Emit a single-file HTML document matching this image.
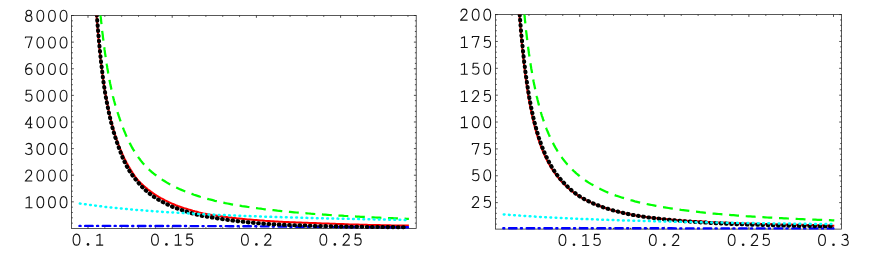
<!DOCTYPE html>
<html><head><meta charset="utf-8"><title>plots</title><style>
html,body{margin:0;padding:0;background:#fff;}
svg{display:block}
.t path{fill:none;stroke:#111;stroke-width:1.1;stroke-linejoin:round;stroke-linecap:butt}
</style></head><body>
<svg width="872" height="257" viewBox="0 0 872 257">
<rect width="872" height="257" fill="#fff"/>
<clipPath id="cl"><rect x="71.5" y="15.5" width="344.7" height="216.0"/></clipPath>
<rect x="71.5" y="15.5" width="344.7" height="213.0" fill="none" stroke="#222" stroke-width="0.75"/>
<path d="M88.00,228.5v-2.3M88.00,15.5v2.3M104.84,228.5v-1.3M104.84,15.5v1.3M121.68,228.5v-1.3M121.68,15.5v1.3M138.52,228.5v-1.3M138.52,15.5v1.3M155.36,228.5v-1.3M155.36,15.5v1.3M172.20,228.5v-2.3M172.20,15.5v2.3M189.04,228.5v-1.3M189.04,15.5v1.3M205.88,228.5v-1.3M205.88,15.5v1.3M222.72,228.5v-1.3M222.72,15.5v1.3M239.56,228.5v-1.3M239.56,15.5v1.3M256.40,228.5v-2.3M256.40,15.5v2.3M273.24,228.5v-1.3M273.24,15.5v1.3M290.08,228.5v-1.3M290.08,15.5v1.3M306.92,228.5v-1.3M306.92,15.5v1.3M323.76,228.5v-1.3M323.76,15.5v1.3M340.60,228.5v-2.3M340.60,15.5v2.3M357.44,228.5v-1.3M357.44,15.5v1.3M374.28,228.5v-1.3M374.28,15.5v1.3M391.12,228.5v-1.3M391.12,15.5v1.3M407.96,228.5v-1.3M407.96,15.5v1.3M71.5,15.50h2.3M416.2,15.50h-2.3M71.5,20.82h1.3M416.2,20.82h-1.3M71.5,26.15h1.3M416.2,26.15h-1.3M71.5,31.47h1.3M416.2,31.47h-1.3M71.5,36.80h1.3M416.2,36.80h-1.3M71.5,42.12h2.3M416.2,42.12h-2.3M71.5,47.44h1.3M416.2,47.44h-1.3M71.5,52.77h1.3M416.2,52.77h-1.3M71.5,58.09h1.3M416.2,58.09h-1.3M71.5,63.42h1.3M416.2,63.42h-1.3M71.5,68.74h2.3M416.2,68.74h-2.3M71.5,74.06h1.3M416.2,74.06h-1.3M71.5,79.39h1.3M416.2,79.39h-1.3M71.5,84.71h1.3M416.2,84.71h-1.3M71.5,90.04h1.3M416.2,90.04h-1.3M71.5,95.36h2.3M416.2,95.36h-2.3M71.5,100.68h1.3M416.2,100.68h-1.3M71.5,106.01h1.3M416.2,106.01h-1.3M71.5,111.33h1.3M416.2,111.33h-1.3M71.5,116.66h1.3M416.2,116.66h-1.3M71.5,121.98h2.3M416.2,121.98h-2.3M71.5,127.30h1.3M416.2,127.30h-1.3M71.5,132.63h1.3M416.2,132.63h-1.3M71.5,137.95h1.3M416.2,137.95h-1.3M71.5,143.28h1.3M416.2,143.28h-1.3M71.5,148.60h2.3M416.2,148.60h-2.3M71.5,153.92h1.3M416.2,153.92h-1.3M71.5,159.25h1.3M416.2,159.25h-1.3M71.5,164.57h1.3M416.2,164.57h-1.3M71.5,169.90h1.3M416.2,169.90h-1.3M71.5,175.22h2.3M416.2,175.22h-2.3M71.5,180.54h1.3M416.2,180.54h-1.3M71.5,185.87h1.3M416.2,185.87h-1.3M71.5,191.19h1.3M416.2,191.19h-1.3M71.5,196.52h1.3M416.2,196.52h-1.3M71.5,201.84h2.3M416.2,201.84h-2.3M71.5,207.16h1.3M416.2,207.16h-1.3M71.5,212.49h1.3M416.2,212.49h-1.3M71.5,217.81h1.3M416.2,217.81h-1.3M71.5,223.14h1.3M416.2,223.14h-1.3" stroke="#222" stroke-width="0.8" fill="none"/>
<g clip-path="url(#cl)" fill="none">
<path d="M95.8,5.2 L96.1,8.8 L96.3,12.3 L96.6,15.7 L96.8,19.0 L97.1,22.3 L97.3,25.4 L97.6,28.4 L97.8,31.4 L98.1,34.3 L98.3,37.1 L98.6,39.8 L98.9,42.5 L99.1,45.1 L99.4,47.6 L99.6,50.1 L99.9,52.5 L100.1,54.9 L100.4,57.1 L100.6,59.4 L100.9,61.6 L101.1,63.7 L101.4,65.8 L101.7,67.9 L101.9,69.9 L102.2,71.8 L102.4,73.7 L102.7,75.6 L102.9,77.4 L103.2,79.2 L103.4,81.0 L103.7,82.7 L104.0,84.4 L104.2,86.0 L104.5,87.7 L104.7,89.2 L105.0,90.8 L105.2,92.3 L105.5,93.8 L105.7,95.3 L106.0,96.7 L106.2,98.1 L106.5,99.5 L106.8,100.9 L107.0,102.2 L107.3,103.5 L107.5,104.8 L107.8,106.1 L108.0,107.3 L108.3,108.6 L108.5,109.8 L108.8,110.9 L109.0,112.1 L109.3,113.2 L109.6,114.4 L109.8,115.5 L110.1,116.6 L110.3,117.6 L110.6,118.7 L110.8,119.7 L111.1,120.7 L111.3,121.7 L111.6,122.7 L111.9,123.7 L112.1,124.6 L112.4,125.6 L112.6,126.5 L112.9,127.4 L113.1,128.3 L113.4,129.2 L113.6,130.1 L113.9,131.0 L114.1,131.8 L114.4,132.6 L114.7,133.5 L114.9,134.3 L115.2,135.1 L115.4,135.9 L115.7,136.6 L115.9,137.4 L116.2,138.2 L116.4,138.9 L116.7,139.7 L116.9,140.4 L117.2,141.1 L117.5,141.8 L117.7,142.5 L118.0,143.2 L118.2,143.9 L118.5,144.6 L118.7,145.2 L119.0,145.9 L119.2,146.5 L119.5,147.2 L119.8,147.8 L120.0,148.4 L120.3,149.1 L120.5,149.7 L120.8,150.3 L121.0,150.9 L121.3,151.5 L121.5,152.1 L121.8,152.7 L122.0,153.3 L122.3,153.8 L122.6,154.4 L122.8,154.9 L123.1,155.5 L123.3,156.0 L123.6,156.6 L123.8,157.1 L124.1,157.7 L124.3,158.2 L124.6,158.7 L124.8,159.2 L125.1,159.7 L125.4,160.2 L125.6,160.7 L125.9,161.2 L126.1,161.7 L126.4,162.2 L126.6,162.7 L126.9,163.2 L127.1,163.6 L127.4,164.1 L127.6,164.5 L127.9,165.0 L128.2,165.5 L128.4,165.9 L128.7,166.4 L128.9,166.8 L129.2,167.2 L129.4,167.7 L129.7,168.1 L129.9,168.5 L130.2,168.9 L130.5,169.4 L130.7,169.8 L131.0,170.2 L131.2,170.6 L131.5,171.0 L131.7,171.4 L132.0,171.8 L132.2,172.2 L132.5,172.6 L132.7,173.0 L133.0,173.4 L133.3,173.8 L133.5,174.2 L133.8,174.5 L134.0,174.9 L134.3,175.3 L134.5,175.7 L134.8,176.0 L135.0,176.4 L135.3,176.7 L135.5,177.0 L135.8,177.4 L136.1,177.7 L136.3,178.0 L136.6,178.4 L136.8,178.7 L137.1,179.0 L137.3,179.3 L137.6,179.7 L137.8,180.0 L138.1,180.3 L138.4,180.6 L138.6,180.9 L138.9,181.1 L139.1,181.4 L139.4,181.7 L139.6,181.9 L139.9,182.2 L140.1,182.5 L140.4,182.7 L140.6,183.0 L140.9,183.2 L141.2,183.5 L141.4,183.7 L141.7,184.0 L141.9,184.2 L142.2,184.5 L142.4,184.7 L142.7,184.9 L142.9,185.2 L143.2,185.4 L143.4,185.6 L143.7,185.9 L144.0,186.1 L144.2,186.3 L144.5,186.5 L144.7,186.7 L145.0,187.0 L145.2,187.2 L145.5,187.4 L145.7,187.6 L146.0,187.8 L146.3,188.0 L146.5,188.2 L146.8,188.4 L147.0,188.7 L147.3,188.9 L147.5,189.1 L147.8,189.3 L148.0,189.5 L148.3,189.7 L148.5,189.9 L148.8,190.1 L149.1,190.3 L149.3,190.4 L149.6,190.6 L149.8,190.8 L150.1,191.0 L150.3,191.2 L150.6,191.4 L150.8,191.6 L151.1,191.8 L151.3,192.0 L151.6,192.2 L151.9,192.4 L152.1,192.6 L152.4,192.7 L152.6,192.9 L152.9,193.1 L153.1,193.3 L153.4,193.5 L153.6,193.6 L153.9,193.8 L154.2,194.0 L154.4,194.1 L154.7,194.3 L154.9,194.5 L155.2,194.7 L155.4,194.8 L155.7,195.0 L155.9,195.1 L156.2,195.3 L156.4,195.5 L156.7,195.6 L158.8,196.9 L160.9,198.1 L163.1,199.2 L165.2,200.3 L167.3,201.3 L169.4,202.4 L171.5,203.4 L173.7,204.3 L175.8,205.2 L177.9,206.0 L180.0,206.7 L182.1,207.4 L184.3,208.1 L186.4,208.7 L188.5,209.4 L190.6,210.0 L192.7,210.7 L194.8,211.3 L197.0,211.8 L199.1,212.4 L201.2,212.9 L203.3,213.4 L205.4,213.8 L207.6,214.2 L209.7,214.6 L211.8,214.9 L213.9,215.3 L216.0,215.6 L218.2,215.9 L220.3,216.2 L222.4,216.5 L224.5,216.8 L226.6,217.1 L228.8,217.4 L230.9,217.6 L233.0,217.9 L235.1,218.1 L237.2,218.4 L239.4,218.6 L241.5,218.8 L243.6,219.0 L245.7,219.2 L247.8,219.4 L250.0,219.6 L252.1,219.8 L254.2,220.0 L256.3,220.1 L258.4,220.3 L260.5,220.5 L262.7,220.6 L264.8,220.8 L266.9,220.9 L269.0,221.0 L271.1,221.2 L273.3,221.3 L275.4,221.4 L277.5,221.5 L279.6,221.7 L281.7,221.8 L283.9,221.9 L286.0,222.0 L288.1,222.1 L290.2,222.2 L292.3,222.3 L294.5,222.3 L296.6,222.4 L298.7,222.5 L300.8,222.6 L302.9,222.7 L305.1,222.8 L307.2,222.8 L309.3,222.9 L311.4,223.0 L313.5,223.1 L315.6,223.1 L317.8,223.2 L319.9,223.3 L322.0,223.4 L324.1,223.5 L326.2,223.5 L328.4,223.6 L330.5,223.7 L332.6,223.8 L334.7,223.8 L336.8,223.9 L339.0,224.0 L341.1,224.1 L343.2,224.1 L345.3,224.2 L347.4,224.3 L349.6,224.4 L351.7,224.4 L353.8,224.5 L355.9,224.5 L358.0,224.6 L360.2,224.7 L362.3,224.7 L364.4,224.8 L366.5,224.8 L368.6,224.9 L370.8,224.9 L372.9,225.0 L375.0,225.0 L377.1,225.1 L379.2,225.1 L381.3,225.2 L383.5,225.2 L385.6,225.2 L387.7,225.3 L389.8,225.3 L391.9,225.4 L394.1,225.4 L396.2,225.4 L398.3,225.5 L400.4,225.5 L402.5,225.5 L404.7,225.6 L406.8,225.6 L408.9,225.6" stroke="#f00" stroke-width="2"/>
<path d="M99.4,3.7 L99.7,6.5 L100.0,9.2 L100.2,11.8 L100.5,14.4 L100.7,16.9 L101.0,19.4 L101.2,21.8 L101.5,24.2 L101.7,26.6 L102.0,28.9 L102.2,31.1 L102.5,33.3 L102.8,35.4 L103.0,37.6 L103.3,39.6 L103.5,41.7 L103.8,43.6 L104.0,45.6 L104.3,47.5 L104.5,49.4 L104.8,51.2 L105.0,53.1 L105.3,54.8 L105.6,56.6 L105.8,58.3 L106.1,60.0 L106.3,61.6 L106.6,63.3 L106.8,64.9 L107.1,66.4 L107.3,68.0 L107.6,69.5 L107.9,71.0 L108.1,72.5 L108.4,73.9 L108.6,75.3 L108.9,76.7 L109.1,78.1 L109.4,79.4 L109.6,80.8 L109.9,82.1 L110.1,83.4 L110.4,84.6 L110.7,85.9 L110.9,87.1 L111.2,88.3 L111.4,89.5 L111.7,90.7 L111.9,91.8 L112.2,93.0 L112.4,94.1 L112.7,95.2 L112.9,96.3 L113.2,97.3 L113.5,98.4 L113.7,99.4 L114.0,100.5 L114.3,101.5 L114.6,102.5 L114.8,103.4 L115.1,104.4 L115.4,105.4 L115.7,106.3 L116.0,107.2 L116.3,108.2 L116.5,109.1 L116.8,109.9 L117.1,110.8 L117.3,111.7 L117.6,112.5 L117.9,113.4 L118.2,114.2 L118.4,115.0 L118.7,115.8 L119.0,116.6 L119.2,117.4 L119.5,118.2 L119.8,119.0 L120.0,119.7 L120.3,120.5 L120.5,121.2 L120.8,122.0 L121.1,122.7 L121.3,123.4 L121.6,124.1 L121.8,124.8 L122.1,125.5 L122.4,126.2 L122.6,126.8 L122.9,127.5 L123.1,128.2 L123.4,128.8 L123.6,129.4 L123.9,130.1 L124.1,130.7 L124.4,131.3 L124.7,131.9 L124.9,132.5 L125.2,133.1 L125.4,133.7 L125.7,134.3 L125.9,134.9 L126.1,135.5 L126.4,136.0 L126.6,136.6 L126.9,137.1 L127.1,137.7 L127.4,138.2 L127.6,138.7 L127.9,139.3 L128.1,139.8 L128.4,140.3 L128.6,140.8 L128.9,141.3 L129.1,141.8 L129.3,142.3 L129.6,142.8 L129.8,143.3 L130.1,143.8 L130.3,144.2 L130.6,144.7 L130.8,145.2 L131.1,145.6 L131.3,146.1 L131.6,146.5 L131.8,147.0 L132.0,147.4 L132.3,147.9 L132.5,148.3 L132.8,148.7 L133.0,149.2 L133.3,149.6 L133.5,150.0 L133.8,150.4 L134.0,150.8 L134.3,151.2 L134.5,151.6 L134.8,152.0 L135.0,152.4 L135.3,152.8 L135.5,153.2 L135.8,153.6 L136.0,153.9 L136.3,154.3 L136.5,154.7 L136.8,155.1 L137.0,155.4 L137.3,155.8 L137.5,156.1 L137.8,156.5 L138.0,156.8 L138.3,157.2 L138.5,157.5 L138.8,157.9 L139.0,158.2 L139.3,158.6 L139.5,158.9 L139.8,159.2 L140.0,159.5 L140.3,159.9 L140.5,160.2 L140.8,160.5 L141.0,160.8 L141.3,161.1 L141.5,161.4 L141.8,161.8 L142.0,162.1 L142.3,162.4 L142.5,162.7 L142.8,163.0 L143.0,163.3 L143.3,163.6 L143.5,163.8 L143.8,164.1 L144.0,164.4 L144.3,164.7 L144.5,165.0 L144.8,165.3 L145.1,165.5 L145.3,165.8 L145.6,166.1 L145.8,166.3 L146.1,166.6 L146.3,166.9 L146.6,167.1 L146.8,167.4 L147.1,167.7 L147.3,167.9 L147.6,168.2 L147.9,168.4 L148.1,168.7 L148.4,168.9 L148.6,169.2 L148.9,169.4 L149.1,169.7 L149.4,169.9 L149.6,170.1 L149.9,170.4 L150.2,170.6 L150.4,170.8 L150.7,171.1 L150.9,171.3 L151.2,171.5 L151.4,171.7 L151.7,171.9 L151.9,172.1 L152.2,172.3 L152.4,172.6 L152.7,172.8 L153.0,173.0 L153.2,173.2 L153.5,173.4 L153.7,173.6 L154.0,173.8 L154.2,174.0 L154.5,174.2 L154.7,174.4 L155.0,174.6 L155.2,174.8 L155.5,174.9 L155.8,175.1 L156.0,175.3 L156.3,175.5 L156.5,175.7 L156.8,175.9 L157.0,176.1 L157.3,176.3 L157.5,176.4 L157.8,176.6 L158.1,176.8 L158.3,177.0 L158.6,177.2 L158.8,177.3 L159.1,177.5 L159.3,177.7 L159.6,177.9 L159.8,178.0 L160.1,178.2 L160.3,178.4 L160.6,178.6 L162.7,180.0 L164.8,181.3 L166.9,182.6 L168.9,183.8 L171.0,184.9 L173.1,186.0 L175.2,187.0 L177.3,188.0 L179.4,189.0 L181.5,189.9 L183.6,190.7 L185.6,191.6 L187.7,192.4 L189.8,193.2 L191.9,193.9 L194.0,194.7 L196.1,195.4 L198.2,196.1 L200.2,196.8 L202.3,197.4 L204.4,198.0 L206.5,198.6 L208.6,199.2 L210.7,199.7 L212.8,200.2 L214.9,200.8 L216.9,201.2 L219.0,201.7 L221.1,202.2 L223.2,202.6 L225.3,203.1 L227.4,203.5 L229.5,203.9 L231.5,204.3 L233.6,204.7 L235.7,205.0 L237.8,205.4 L239.9,205.7 L242.0,206.1 L244.1,206.4 L246.1,206.7 L248.2,207.0 L250.3,207.3 L252.4,207.6 L254.5,207.9 L256.6,208.2 L258.7,208.5 L260.8,208.7 L262.8,209.0 L264.9,209.3 L267.0,209.5 L269.1,209.7 L271.2,210.0 L273.3,210.2 L275.4,210.4 L277.4,210.7 L279.5,210.9 L281.6,211.1 L283.7,211.3 L285.8,211.5 L287.9,211.7 L290.0,211.9 L292.1,212.1 L294.1,212.3 L296.2,212.5 L298.3,212.6 L300.4,212.8 L302.5,213.0 L304.6,213.2 L306.7,213.3 L308.7,213.5 L310.8,213.7 L312.9,213.8 L315.0,214.0 L317.1,214.1 L319.2,214.3 L321.3,214.4 L323.4,214.6 L325.4,214.7 L327.5,214.8 L329.6,215.0 L331.7,215.1 L333.8,215.2 L335.9,215.4 L338.0,215.5 L340.0,215.6 L342.1,215.7 L344.2,215.9 L346.3,216.0 L348.4,216.1 L350.5,216.2 L352.6,216.3 L354.6,216.4 L356.7,216.6 L358.8,216.7 L360.9,216.8 L363.0,216.9 L365.1,217.0 L367.2,217.1 L369.3,217.2 L371.3,217.3 L373.4,217.4 L375.5,217.5 L377.6,217.6 L379.7,217.7 L381.8,217.8 L383.9,217.8 L385.9,217.9 L388.0,218.0 L390.1,218.1 L392.2,218.2 L394.3,218.3 L396.4,218.4 L398.5,218.4 L400.6,218.5 L402.6,218.6 L404.7,218.7 L406.8,218.8 L408.9,218.8" stroke="#0f0" stroke-width="2.25" stroke-dasharray="9.90 6.66" stroke-dashoffset="5.84"/>
<path d="M79.3,225.9 L84.9,225.9 L90.4,225.9 L96.0,225.9 L101.6,225.9 L107.2,225.9 L112.7,225.9 L118.3,225.9 L123.9,225.9 L129.4,226.0 L135.0,226.0 L140.6,226.0 L146.2,226.0 L151.7,226.0 L157.3,226.0 L162.9,226.0 L168.4,226.0 L174.0,226.0 L179.6,226.0 L185.2,226.0 L190.7,226.1 L196.3,226.1 L201.9,226.1 L207.4,226.1 L213.0,226.1 L218.6,226.1 L224.2,226.1 L229.7,226.2 L235.3,226.2 L240.9,226.2 L246.4,226.2 L252.0,226.3 L257.6,226.3 L263.1,226.4 L268.7,226.4 L274.3,226.5 L279.9,226.5 L285.4,226.6 L291.0,226.7 L296.6,226.7 L302.1,226.7 L307.7,226.8 L313.3,226.8 L318.9,226.8 L324.4,226.9 L330.0,226.9 L335.6,226.9 L341.1,227.0 L346.7,227.0 L352.3,227.0 L357.9,227.0 L363.4,227.1 L369.0,227.1 L374.6,227.1 L380.1,227.1 L385.7,227.1 L391.3,227.2 L396.9,227.2 L402.4,227.2 L408.0,227.2" stroke="#00f" stroke-width="2.4" stroke-linecap="round" stroke-dasharray="7.50 4.40 1.10 4.578" stroke-dashoffset="11.72"/>
<path d="M96.1,3.8 L96.3,7.5 L96.6,11.1 L96.8,14.6 L97.1,18.0 L97.3,21.3 L97.6,24.6 L97.8,27.8 L98.1,30.8 L98.3,33.9 L98.6,36.8 L98.9,39.7 L99.1,42.5 L99.4,45.2 L99.6,47.9 L99.9,50.5 L100.1,53.1 L100.4,55.5 L100.6,58.0 L100.9,60.4 L101.1,62.7 L101.4,65.0 L101.7,67.2 L101.9,69.4 L102.2,71.5 L102.4,73.6 L102.7,75.6 L102.9,77.6 L103.2,79.5 L103.4,81.5 L103.7,83.3 L104.0,85.2 L104.2,86.9 L104.5,88.7 L104.7,90.4 L105.0,92.1 L105.3,93.8 L105.6,95.4 L105.8,97.0 L106.1,98.5 L106.4,100.0 L106.7,101.5 L107.0,103.0 L107.2,104.4 L107.5,105.8 L107.8,107.2 L108.1,108.6 L108.3,109.9 L108.6,111.2 L108.9,112.5 L109.1,113.8 L109.4,115.0 L109.7,116.2 L110.0,117.4 L110.2,118.6 L110.5,119.7 L110.8,120.9 L111.0,122.0 L111.3,123.1 L111.6,124.1 L111.8,125.2 L112.1,126.2 L112.4,127.2 L112.6,128.3 L112.9,129.2 L113.2,130.2 L113.5,131.2 L113.7,132.1 L114.0,133.0 L114.3,133.9 L114.5,134.8 L114.8,135.7 L115.1,136.6 L115.3,137.4 L115.6,138.2 L115.9,139.1 L116.1,139.9 L116.4,140.7 L116.6,141.5 L116.9,142.2 L117.2,143.0 L117.5,143.8 L117.7,144.5 L118.0,145.2 L118.2,146.0 L118.5,146.7 L118.8,147.4 L119.0,148.1 L119.3,148.7 L119.5,149.4 L119.8,150.1 L120.0,150.7 L120.2,151.4 L120.5,152.0 L120.7,152.6 L120.9,153.2 L121.2,153.8 L121.4,154.4 L121.6,155.0 L121.9,155.6 L122.1,156.2 L122.3,156.7 L122.5,157.3 L122.8,157.9 L123.0,158.4 L123.2,158.9 L123.5,159.5 L123.7,160.0 L124.0,160.5 L124.2,161.0 L124.4,161.5 L124.7,162.0 L124.9,162.5 L125.1,163.0 L125.4,163.5 L125.6,164.0 L125.9,164.4 L126.1,164.9 L126.3,165.4 L126.6,165.8 L126.8,166.3 L127.1,166.7 L127.3,167.1 L127.5,167.6 L127.8,168.0 L128.0,168.4 L128.3,168.8 L128.5,169.3 L128.7,169.7 L129.0,170.1 L129.2,170.5 L129.5,170.9 L129.7,171.3 L130.0,171.6 L130.2,172.0 L130.5,172.4 L130.7,172.8 L131.0,173.1 L131.2,173.5 L131.5,173.9 L131.7,174.2 L132.0,174.6 L132.2,174.9 L132.5,175.3 L132.7,175.6 L133.0,176.0 L133.3,176.3 L133.5,176.7 L133.8,177.0 L134.0,177.3 L134.3,177.7 L134.5,178.0 L134.8,178.3 L135.0,178.7 L135.3,179.0 L135.5,179.3 L135.8,179.6 L136.1,179.9 L136.3,180.3 L136.6,180.6 L136.8,180.9 L137.1,181.2 L137.3,181.5 L137.6,181.8 L137.8,182.1 L138.1,182.4 L138.4,182.7 L138.6,183.0 L138.9,183.3 L139.1,183.6 L139.4,183.9 L139.6,184.2 L139.9,184.5 L140.1,184.8 L140.4,185.1 L140.6,185.4 L140.9,185.7 L141.2,185.9 L141.4,186.2 L141.7,186.5 L141.9,186.8 L142.2,187.0 L142.4,187.3 L142.7,187.5 L142.9,187.8 L143.2,188.0 L143.4,188.3 L143.7,188.5 L144.0,188.8 L144.2,189.0 L144.5,189.3 L144.7,189.5 L145.0,189.7 L145.2,190.0 L145.5,190.2 L145.7,190.4 L146.0,190.7 L146.3,190.9 L146.5,191.1 L146.8,191.3 L147.0,191.5 L147.3,191.8 L147.5,192.0 L147.8,192.2 L148.0,192.4 L148.3,192.6 L148.5,192.8 L148.8,193.0 L149.1,193.2 L149.3,193.4 L149.6,193.6 L149.8,193.8 L150.1,194.0 L150.3,194.2 L150.6,194.4 L150.8,194.6 L151.1,194.8 L151.3,195.0 L151.6,195.1 L151.9,195.3 L152.1,195.5 L152.4,195.7 L152.6,195.9 L152.9,196.1 L153.1,196.2 L153.4,196.4 L153.6,196.6 L153.9,196.8 L154.2,196.9 L154.4,197.1 L154.7,197.3 L154.9,197.4 L155.2,197.6 L155.4,197.8 L155.7,197.9 L155.9,198.1 L156.2,198.3 L156.4,198.4 L156.7,198.6 L158.8,199.9 L160.9,201.1 L163.1,202.2 L165.2,203.3 L167.3,204.4 L169.4,205.4 L171.5,206.3 L173.7,207.2 L175.8,208.0 L177.9,208.8 L180.0,209.5 L182.1,210.2 L184.3,210.9 L186.4,211.6 L188.5,212.3 L190.6,212.9 L192.7,213.5 L194.8,214.1 L197.0,214.6 L199.1,215.2 L201.2,215.7 L203.3,216.1 L205.4,216.5 L207.6,216.8 L209.7,217.1 L211.8,217.4 L213.9,217.8 L216.0,218.1 L218.2,218.5 L220.3,218.8 L222.4,219.1 L224.5,219.4 L226.6,219.8 L228.8,220.0 L230.9,220.3 L233.0,220.6 L235.1,220.9 L237.2,221.1 L239.4,221.4 L241.5,221.6 L243.6,221.8 L245.7,222.1 L247.8,222.3 L250.0,222.5 L252.1,222.7 L254.2,222.9 L256.3,223.1 L258.4,223.2 L260.5,223.4 L262.7,223.6 L264.8,223.7 L266.9,223.9 L269.0,224.0 L271.1,224.2 L273.3,224.3 L275.4,224.4 L277.5,224.5 L279.6,224.6 L281.7,224.7 L283.9,224.8 L286.0,224.9 L288.1,225.0 L290.2,225.1 L292.3,225.1 L294.5,225.2 L296.6,225.2 L298.7,225.3 L300.8,225.4 L302.9,225.4 L305.1,225.5 L307.2,225.6 L309.3,225.7 L311.4,225.7 L313.5,225.8 L315.6,225.9 L317.8,225.9 L319.9,226.0 L322.0,226.0 L324.1,226.1 L326.2,226.1 L328.4,226.2 L330.5,226.3 L332.6,226.3 L334.7,226.3 L336.8,226.4 L339.0,226.4 L341.1,226.5 L343.2,226.5 L345.3,226.6 L347.4,226.6 L349.6,226.6 L351.7,226.7 L353.8,226.7 L355.9,226.7 L358.0,226.8 L360.2,226.8 L362.3,226.8 L364.4,226.8 L366.5,226.9 L368.6,226.9 L370.8,226.9 L372.9,226.9 L375.0,227.0 L377.1,227.0 L379.2,227.0 L381.3,227.0 L383.5,227.1 L385.6,227.1 L387.7,227.1 L389.8,227.1 L391.9,227.1 L394.1,227.1 L396.2,227.2 L398.3,227.2 L400.4,227.2 L402.5,227.2 L404.7,227.2 L406.8,227.2" stroke="#000" stroke-width="4.05" stroke-dasharray="0.7 4.479" stroke-dashoffset="4.41" stroke-linecap="round"/>
<path d="M79.0,203.4 L84.6,204.2 L90.2,205.0 L95.8,205.7 L101.4,206.4 L107.0,207.1 L112.5,207.7 L118.1,208.2 L123.7,208.8 L129.3,209.3 L134.9,209.8 L140.5,210.2 L146.1,210.7 L151.7,211.1 L157.3,211.5 L162.9,211.9 L168.5,212.2 L174.1,212.6 L179.6,212.9 L185.2,213.2 L190.8,213.5 L196.4,213.8 L202.0,214.1 L207.6,214.4 L213.2,214.6 L218.8,214.9 L224.4,215.1 L230.0,215.4 L235.6,215.6 L241.2,215.8 L246.7,216.0 L252.3,216.2 L257.9,216.4 L263.5,216.6 L269.1,216.8 L274.7,217.0 L280.3,217.1 L285.9,217.3 L291.5,217.5 L297.1,217.6 L302.7,217.8 L308.3,217.9 L313.8,218.1 L319.4,218.2 L325.0,218.3 L330.6,218.5 L336.2,218.6 L341.8,218.7 L347.4,218.8 L353.0,219.0 L358.6,219.1 L364.2,219.2 L369.8,219.3 L375.4,219.4 L380.9,219.5 L386.5,219.6 L392.1,219.7 L397.7,219.8 L403.3,219.9 L408.9,220.0" stroke="#0ff" stroke-width="2.5" stroke-dasharray="0.7 4.466" stroke-dashoffset="4.29" stroke-linecap="round"/>
</g>
<g class="t" role="img" aria-label="8000"><title>8000</title><path transform="translate(25.35,10.30) scale(1,0.9693)" d="M3.4,5.3 C1.8,5.3 0.7,4.2 0.7,2.65 C0.7,1.1 1.8,0 3.4,0 C5.0,0 6.1,1.1 6.1,2.65 C6.1,4.2 5.0,5.3 3.4,5.3 C5.3,5.3 6.6,6.6 6.6,8.35 C6.6,10.1 5.3,11.4 3.4,11.4 C1.5,11.4 0.2,10.1 0.2,8.35 C0.2,6.6 1.5,5.3 3.4,5.3Z"/><path transform="translate(36.95,10.30) scale(1,0.9693)" d="M0,5.7 C0,2.2 1.3,0 3.4,0 C5.5,0 6.8,2.2 6.8,5.7 C6.8,9.2 5.5,11.4 3.4,11.4 C1.3,11.4 0,9.2 0,5.7Z"/><path transform="translate(48.55,10.30) scale(1,0.9693)" d="M0,5.7 C0,2.2 1.3,0 3.4,0 C5.5,0 6.8,2.2 6.8,5.7 C6.8,9.2 5.5,11.4 3.4,11.4 C1.3,11.4 0,9.2 0,5.7Z"/><path transform="translate(60.15,10.30) scale(1,0.9693)" d="M0,5.7 C0,2.2 1.3,0 3.4,0 C5.5,0 6.8,2.2 6.8,5.7 C6.8,9.2 5.5,11.4 3.4,11.4 C1.3,11.4 0,9.2 0,5.7Z"/></g>
<g class="t" role="img" aria-label="7000"><title>7000</title><path transform="translate(25.35,36.92) scale(1,0.9693)" d="M0.1,1.5 V0 H6.7 L3.0,11.4"/><path transform="translate(36.95,36.92) scale(1,0.9693)" d="M0,5.7 C0,2.2 1.3,0 3.4,0 C5.5,0 6.8,2.2 6.8,5.7 C6.8,9.2 5.5,11.4 3.4,11.4 C1.3,11.4 0,9.2 0,5.7Z"/><path transform="translate(48.55,36.92) scale(1,0.9693)" d="M0,5.7 C0,2.2 1.3,0 3.4,0 C5.5,0 6.8,2.2 6.8,5.7 C6.8,9.2 5.5,11.4 3.4,11.4 C1.3,11.4 0,9.2 0,5.7Z"/><path transform="translate(60.15,36.92) scale(1,0.9693)" d="M0,5.7 C0,2.2 1.3,0 3.4,0 C5.5,0 6.8,2.2 6.8,5.7 C6.8,9.2 5.5,11.4 3.4,11.4 C1.3,11.4 0,9.2 0,5.7Z"/></g>
<g class="t" role="img" aria-label="6000"><title>6000</title><path transform="translate(25.35,63.54) scale(1,0.9693)" d="M6.3,0.5 C5.7,0.2 5.1,0 4.5,0 C1.9,0 0.2,2.8 0.2,6.7 C0.2,9.7 1.4,11.4 3.5,11.4 C5.3,11.4 6.6,10 6.6,8 C6.6,6.1 5.4,4.7 3.6,4.7 C2.0,4.7 0.7,5.8 0.2,7.4"/><path transform="translate(36.95,63.54) scale(1,0.9693)" d="M0,5.7 C0,2.2 1.3,0 3.4,0 C5.5,0 6.8,2.2 6.8,5.7 C6.8,9.2 5.5,11.4 3.4,11.4 C1.3,11.4 0,9.2 0,5.7Z"/><path transform="translate(48.55,63.54) scale(1,0.9693)" d="M0,5.7 C0,2.2 1.3,0 3.4,0 C5.5,0 6.8,2.2 6.8,5.7 C6.8,9.2 5.5,11.4 3.4,11.4 C1.3,11.4 0,9.2 0,5.7Z"/><path transform="translate(60.15,63.54) scale(1,0.9693)" d="M0,5.7 C0,2.2 1.3,0 3.4,0 C5.5,0 6.8,2.2 6.8,5.7 C6.8,9.2 5.5,11.4 3.4,11.4 C1.3,11.4 0,9.2 0,5.7Z"/></g>
<g class="t" role="img" aria-label="5000"><title>5000</title><path transform="translate(25.35,90.16) scale(1,0.9693)" d="M6.1,0 H1.0 L0.7,5.0 C1.5,4.3 2.4,3.9 3.5,3.9 C5.4,3.9 6.7,5.4 6.7,7.6 C6.7,9.9 5.2,11.4 3.2,11.4 C1.8,11.4 0.6,10.8 -0.1,9.8"/><path transform="translate(36.95,90.16) scale(1,0.9693)" d="M0,5.7 C0,2.2 1.3,0 3.4,0 C5.5,0 6.8,2.2 6.8,5.7 C6.8,9.2 5.5,11.4 3.4,11.4 C1.3,11.4 0,9.2 0,5.7Z"/><path transform="translate(48.55,90.16) scale(1,0.9693)" d="M0,5.7 C0,2.2 1.3,0 3.4,0 C5.5,0 6.8,2.2 6.8,5.7 C6.8,9.2 5.5,11.4 3.4,11.4 C1.3,11.4 0,9.2 0,5.7Z"/><path transform="translate(60.15,90.16) scale(1,0.9693)" d="M0,5.7 C0,2.2 1.3,0 3.4,0 C5.5,0 6.8,2.2 6.8,5.7 C6.8,9.2 5.5,11.4 3.4,11.4 C1.3,11.4 0,9.2 0,5.7Z"/></g>
<g class="t" role="img" aria-label="4000"><title>4000</title><path transform="translate(25.35,116.78) scale(1,0.9693)" d="M5.1,11.4 V0 L0,7.8 H7.0 M2.7,11.4 H7.0"/><path transform="translate(36.95,116.78) scale(1,0.9693)" d="M0,5.7 C0,2.2 1.3,0 3.4,0 C5.5,0 6.8,2.2 6.8,5.7 C6.8,9.2 5.5,11.4 3.4,11.4 C1.3,11.4 0,9.2 0,5.7Z"/><path transform="translate(48.55,116.78) scale(1,0.9693)" d="M0,5.7 C0,2.2 1.3,0 3.4,0 C5.5,0 6.8,2.2 6.8,5.7 C6.8,9.2 5.5,11.4 3.4,11.4 C1.3,11.4 0,9.2 0,5.7Z"/><path transform="translate(60.15,116.78) scale(1,0.9693)" d="M0,5.7 C0,2.2 1.3,0 3.4,0 C5.5,0 6.8,2.2 6.8,5.7 C6.8,9.2 5.5,11.4 3.4,11.4 C1.3,11.4 0,9.2 0,5.7Z"/></g>
<g class="t" role="img" aria-label="3000"><title>3000</title><path transform="translate(25.35,143.40) scale(1,0.9693)" d="M0.5,1.4 C1.2,0.5 2.2,0 3.4,0 C5.0,0 6.1,1.1 6.1,2.7 C6.1,4.3 4.9,5.3 2.8,5.3 C5.1,5.3 6.7,6.4 6.7,8.3 C6.7,10.2 5.2,11.4 3.3,11.4 C1.9,11.4 0.6,10.8 -0.1,9.8"/><path transform="translate(36.95,143.40) scale(1,0.9693)" d="M0,5.7 C0,2.2 1.3,0 3.4,0 C5.5,0 6.8,2.2 6.8,5.7 C6.8,9.2 5.5,11.4 3.4,11.4 C1.3,11.4 0,9.2 0,5.7Z"/><path transform="translate(48.55,143.40) scale(1,0.9693)" d="M0,5.7 C0,2.2 1.3,0 3.4,0 C5.5,0 6.8,2.2 6.8,5.7 C6.8,9.2 5.5,11.4 3.4,11.4 C1.3,11.4 0,9.2 0,5.7Z"/><path transform="translate(60.15,143.40) scale(1,0.9693)" d="M0,5.7 C0,2.2 1.3,0 3.4,0 C5.5,0 6.8,2.2 6.8,5.7 C6.8,9.2 5.5,11.4 3.4,11.4 C1.3,11.4 0,9.2 0,5.7Z"/></g>
<g class="t" role="img" aria-label="2000"><title>2000</title><path transform="translate(25.35,170.02) scale(1,0.9693)" d="M0.4,3.3 C0.4,1.3 1.6,0 3.4,0 C5.1,0 6.3,1.2 6.3,3 C6.3,4.5 5.4,5.5 4.0,6.9 L-0.1,11.4 H6.9"/><path transform="translate(36.95,170.02) scale(1,0.9693)" d="M0,5.7 C0,2.2 1.3,0 3.4,0 C5.5,0 6.8,2.2 6.8,5.7 C6.8,9.2 5.5,11.4 3.4,11.4 C1.3,11.4 0,9.2 0,5.7Z"/><path transform="translate(48.55,170.02) scale(1,0.9693)" d="M0,5.7 C0,2.2 1.3,0 3.4,0 C5.5,0 6.8,2.2 6.8,5.7 C6.8,9.2 5.5,11.4 3.4,11.4 C1.3,11.4 0,9.2 0,5.7Z"/><path transform="translate(60.15,170.02) scale(1,0.9693)" d="M0,5.7 C0,2.2 1.3,0 3.4,0 C5.5,0 6.8,2.2 6.8,5.7 C6.8,9.2 5.5,11.4 3.4,11.4 C1.3,11.4 0,9.2 0,5.7Z"/></g>
<g class="t" role="img" aria-label="1000"><title>1000</title><path transform="translate(25.35,196.64) scale(1,0.9693)" d="M0.4,1.8 L3.85,0.2 V11.4 M0.1,11.4 H7.1"/><path transform="translate(36.95,196.64) scale(1,0.9693)" d="M0,5.7 C0,2.2 1.3,0 3.4,0 C5.5,0 6.8,2.2 6.8,5.7 C6.8,9.2 5.5,11.4 3.4,11.4 C1.3,11.4 0,9.2 0,5.7Z"/><path transform="translate(48.55,196.64) scale(1,0.9693)" d="M0,5.7 C0,2.2 1.3,0 3.4,0 C5.5,0 6.8,2.2 6.8,5.7 C6.8,9.2 5.5,11.4 3.4,11.4 C1.3,11.4 0,9.2 0,5.7Z"/><path transform="translate(60.15,196.64) scale(1,0.9693)" d="M0,5.7 C0,2.2 1.3,0 3.4,0 C5.5,0 6.8,2.2 6.8,5.7 C6.8,9.2 5.5,11.4 3.4,11.4 C1.3,11.4 0,9.2 0,5.7Z"/></g>
<g class="t" role="img" aria-label="0.1"><title>0.1</title><path transform="translate(73.10,234.10) scale(1,0.9693)" d="M0,5.7 C0,2.2 1.3,0 3.4,0 C5.5,0 6.8,2.2 6.8,5.7 C6.8,9.2 5.5,11.4 3.4,11.4 C1.3,11.4 0,9.2 0,5.7Z"/><circle cx="88.00" cy="244.40" r="1.3" fill="#111" stroke="none"/><path transform="translate(96.10,234.10) scale(1,0.9693)" d="M0.4,1.8 L3.85,0.2 V11.4 M0.1,11.4 H7.1"/></g>
<g class="t" role="img" aria-label="0.15"><title>0.15</title><path transform="translate(151.55,234.10) scale(1,0.9693)" d="M0,5.7 C0,2.2 1.3,0 3.4,0 C5.5,0 6.8,2.2 6.8,5.7 C6.8,9.2 5.5,11.4 3.4,11.4 C1.3,11.4 0,9.2 0,5.7Z"/><circle cx="166.45" cy="244.40" r="1.3" fill="#111" stroke="none"/><path transform="translate(174.55,234.10) scale(1,0.9693)" d="M0.4,1.8 L3.85,0.2 V11.4 M0.1,11.4 H7.1"/><path transform="translate(186.05,234.10) scale(1,0.9693)" d="M6.1,0 H1.0 L0.7,5.0 C1.5,4.3 2.4,3.9 3.5,3.9 C5.4,3.9 6.7,5.4 6.7,7.6 C6.7,9.9 5.2,11.4 3.2,11.4 C1.8,11.4 0.6,10.8 -0.1,9.8"/></g>
<g class="t" role="img" aria-label="0.2"><title>0.2</title><path transform="translate(241.50,234.10) scale(1,0.9693)" d="M0,5.7 C0,2.2 1.3,0 3.4,0 C5.5,0 6.8,2.2 6.8,5.7 C6.8,9.2 5.5,11.4 3.4,11.4 C1.3,11.4 0,9.2 0,5.7Z"/><circle cx="256.40" cy="244.40" r="1.3" fill="#111" stroke="none"/><path transform="translate(264.50,234.10) scale(1,0.9693)" d="M0.4,3.3 C0.4,1.3 1.6,0 3.4,0 C5.1,0 6.3,1.2 6.3,3 C6.3,4.5 5.4,5.5 4.0,6.9 L-0.1,11.4 H6.9"/></g>
<g class="t" role="img" aria-label="0.25"><title>0.25</title><path transform="translate(319.95,234.10) scale(1,0.9693)" d="M0,5.7 C0,2.2 1.3,0 3.4,0 C5.5,0 6.8,2.2 6.8,5.7 C6.8,9.2 5.5,11.4 3.4,11.4 C1.3,11.4 0,9.2 0,5.7Z"/><circle cx="334.85" cy="244.40" r="1.3" fill="#111" stroke="none"/><path transform="translate(342.95,234.10) scale(1,0.9693)" d="M0.4,3.3 C0.4,1.3 1.6,0 3.4,0 C5.1,0 6.3,1.2 6.3,3 C6.3,4.5 5.4,5.5 4.0,6.9 L-0.1,11.4 H6.9"/><path transform="translate(354.45,234.10) scale(1,0.9693)" d="M6.1,0 H1.0 L0.7,5.0 C1.5,4.3 2.4,3.9 3.5,3.9 C5.4,3.9 6.7,5.4 6.7,7.6 C6.7,9.9 5.2,11.4 3.2,11.4 C1.8,11.4 0.6,10.8 -0.1,9.8"/></g>
<clipPath id="cr"><rect x="495.5" y="14.6" width="346.0" height="217.5"/></clipPath>
<rect x="495.5" y="14.6" width="346.0" height="214.5" fill="none" stroke="#222" stroke-width="0.75"/>
<path d="M512.02,229.1v-1.3M512.02,14.6v1.3M528.94,229.1v-1.3M528.94,14.6v1.3M545.86,229.1v-1.3M545.86,14.6v1.3M562.78,229.1v-1.3M562.78,14.6v1.3M579.70,229.1v-2.3M579.70,14.6v2.3M596.62,229.1v-1.3M596.62,14.6v1.3M613.54,229.1v-1.3M613.54,14.6v1.3M630.46,229.1v-1.3M630.46,14.6v1.3M647.38,229.1v-1.3M647.38,14.6v1.3M664.30,229.1v-2.3M664.30,14.6v2.3M681.22,229.1v-1.3M681.22,14.6v1.3M698.14,229.1v-1.3M698.14,14.6v1.3M715.06,229.1v-1.3M715.06,14.6v1.3M731.98,229.1v-1.3M731.98,14.6v1.3M748.90,229.1v-2.3M748.90,14.6v2.3M765.82,229.1v-1.3M765.82,14.6v1.3M782.74,229.1v-1.3M782.74,14.6v1.3M799.66,229.1v-1.3M799.66,14.6v1.3M816.58,229.1v-1.3M816.58,14.6v1.3M833.50,229.1v-2.3M833.50,14.6v2.3M495.5,14.60h2.3M841.5,14.60h-2.3M495.5,19.97h1.3M841.5,19.97h-1.3M495.5,25.34h1.3M841.5,25.34h-1.3M495.5,30.72h1.3M841.5,30.72h-1.3M495.5,36.09h1.3M841.5,36.09h-1.3M495.5,41.46h2.3M841.5,41.46h-2.3M495.5,46.83h1.3M841.5,46.83h-1.3M495.5,52.20h1.3M841.5,52.20h-1.3M495.5,57.58h1.3M841.5,57.58h-1.3M495.5,62.95h1.3M841.5,62.95h-1.3M495.5,68.32h2.3M841.5,68.32h-2.3M495.5,73.69h1.3M841.5,73.69h-1.3M495.5,79.06h1.3M841.5,79.06h-1.3M495.5,84.44h1.3M841.5,84.44h-1.3M495.5,89.81h1.3M841.5,89.81h-1.3M495.5,95.18h2.3M841.5,95.18h-2.3M495.5,100.55h1.3M841.5,100.55h-1.3M495.5,105.92h1.3M841.5,105.92h-1.3M495.5,111.30h1.3M841.5,111.30h-1.3M495.5,116.67h1.3M841.5,116.67h-1.3M495.5,122.04h2.3M841.5,122.04h-2.3M495.5,127.41h1.3M841.5,127.41h-1.3M495.5,132.78h1.3M841.5,132.78h-1.3M495.5,138.16h1.3M841.5,138.16h-1.3M495.5,143.53h1.3M841.5,143.53h-1.3M495.5,148.90h2.3M841.5,148.90h-2.3M495.5,154.27h1.3M841.5,154.27h-1.3M495.5,159.64h1.3M841.5,159.64h-1.3M495.5,165.02h1.3M841.5,165.02h-1.3M495.5,170.39h1.3M841.5,170.39h-1.3M495.5,175.76h2.3M841.5,175.76h-2.3M495.5,181.13h1.3M841.5,181.13h-1.3M495.5,186.50h1.3M841.5,186.50h-1.3M495.5,191.88h1.3M841.5,191.88h-1.3M495.5,197.25h1.3M841.5,197.25h-1.3M495.5,202.62h2.3M841.5,202.62h-2.3M495.5,207.99h1.3M841.5,207.99h-1.3M495.5,213.36h1.3M841.5,213.36h-1.3M495.5,218.74h1.3M841.5,218.74h-1.3M495.5,224.11h1.3M841.5,224.11h-1.3" stroke="#222" stroke-width="0.8" fill="none"/>
<g clip-path="url(#cr)" fill="none">
<path d="M518.6,4.1 L518.9,7.6 L519.1,11.0 L519.4,14.3 L519.6,17.5 L519.9,20.7 L520.1,23.8 L520.4,26.8 L520.6,29.7 L520.8,32.6 L521.1,35.4 L521.3,38.1 L521.6,40.8 L521.8,43.4 L522.0,45.9 L522.3,48.4 L522.5,50.9 L522.8,53.2 L523.0,55.6 L523.3,57.8 L523.5,60.1 L523.7,62.2 L524.0,64.4 L524.2,66.5 L524.5,68.5 L524.7,70.5 L524.9,72.5 L525.2,74.4 L525.4,76.3 L525.7,78.1 L525.9,79.9 L526.1,81.7 L526.4,83.4 L526.6,85.1 L526.9,86.8 L527.1,88.4 L527.3,90.0 L527.6,91.6 L527.8,93.1 L528.1,94.6 L528.3,96.1 L528.6,97.6 L528.8,99.0 L529.1,100.4 L529.3,101.8 L529.5,103.2 L529.8,104.5 L530.0,105.8 L530.3,107.1 L530.5,108.4 L530.8,109.6 L531.0,110.8 L531.3,112.0 L531.5,113.2 L531.8,114.4 L532.0,115.5 L532.3,116.6 L532.5,117.7 L532.8,118.8 L533.0,119.9 L533.3,120.9 L533.5,122.0 L533.8,123.0 L534.0,124.0 L534.3,125.0 L534.5,126.0 L534.8,126.9 L535.0,127.9 L535.3,128.8 L535.5,129.7 L535.8,130.6 L536.0,131.5 L536.3,132.4 L536.5,133.2 L536.8,134.1 L537.0,134.9 L537.3,135.7 L537.5,136.5 L537.8,137.3 L538.0,138.1 L538.3,138.9 L538.5,139.7 L538.8,140.4 L539.0,141.2 L539.3,141.9 L539.5,142.6 L539.8,143.4 L540.0,144.1 L540.3,144.8 L540.5,145.4 L540.8,146.1 L541.1,146.8 L541.3,147.5 L541.6,148.1 L541.8,148.7 L542.1,149.4 L542.3,150.0 L542.6,150.6 L542.8,151.2 L543.1,151.8 L543.3,152.4 L543.6,153.0 L543.8,153.6 L544.1,154.2 L544.3,154.8 L544.6,155.3 L544.8,155.9 L545.1,156.4 L545.3,157.0 L545.6,157.5 L545.8,158.0 L546.1,158.5 L546.3,159.1 L546.6,159.6 L546.9,160.1 L547.1,160.6 L547.4,161.1 L547.6,161.5 L547.9,162.0 L548.1,162.5 L548.4,163.0 L548.6,163.4 L548.9,163.9 L549.1,164.3 L549.4,164.8 L549.7,165.2 L549.9,165.7 L550.2,166.1 L550.4,166.5 L550.7,167.0 L550.9,167.4 L551.2,167.8 L551.4,168.2 L551.7,168.6 L551.9,169.0 L552.2,169.4 L552.5,169.8 L552.7,170.2 L553.0,170.6 L553.2,171.0 L553.5,171.4 L553.7,171.7 L554.0,172.1 L554.3,172.5 L554.5,172.8 L554.8,173.2 L555.0,173.5 L555.3,173.9 L555.5,174.2 L555.8,174.6 L556.0,174.9 L556.3,175.3 L556.6,175.6 L556.8,175.9 L557.1,176.3 L557.3,176.6 L557.6,176.9 L557.8,177.2 L558.1,177.6 L558.4,177.9 L558.6,178.2 L558.9,178.5 L559.1,178.8 L559.4,179.1 L559.6,179.4 L559.9,179.7 L560.2,180.0 L560.4,180.3 L560.7,180.6 L560.9,180.9 L561.2,181.1 L561.4,181.4 L561.7,181.7 L562.0,182.0 L562.2,182.2 L562.5,182.5 L562.7,182.8 L563.0,183.1 L563.2,183.3 L563.5,183.6 L563.8,183.8 L564.0,184.1 L564.3,184.3 L564.5,184.6 L564.8,184.8 L565.0,185.1 L565.3,185.4 L565.6,185.6 L565.8,185.9 L566.1,186.1 L566.3,186.4 L566.6,186.6 L566.9,186.9 L567.1,187.1 L567.4,187.4 L567.7,187.6 L567.9,187.9 L568.2,188.1 L568.4,188.3 L568.7,188.6 L569.0,188.8 L569.2,189.0 L569.5,189.3 L569.8,189.5 L570.0,189.7 L570.3,189.9 L570.6,190.1 L570.8,190.4 L571.1,190.6 L571.4,190.8 L571.6,191.0 L571.9,191.2 L572.2,191.4 L572.4,191.6 L572.7,191.8 L572.9,192.0 L573.2,192.2 L573.5,192.4 L573.7,192.6 L574.0,192.8 L574.3,193.0 L574.5,193.2 L574.8,193.4 L575.1,193.6 L575.3,193.8 L575.6,194.0 L575.8,194.1 L576.1,194.3 L576.4,194.5 L576.6,194.7 L576.9,194.9 L577.2,195.0 L577.4,195.2 L577.7,195.4 L577.9,195.6 L578.2,195.7 L578.5,195.9 L578.7,196.1 L579.0,196.2 L579.3,196.4 L581.5,197.7 L583.6,199.0 L585.8,200.1 L588.0,201.2 L590.2,202.2 L592.4,203.1 L594.5,204.1 L596.7,204.9 L598.9,205.7 L601.0,206.5 L603.2,207.3 L605.4,208.0 L607.5,208.7 L609.7,209.4 L611.8,210.0 L614.0,210.6 L616.1,211.2 L618.3,211.7 L620.4,212.3 L622.6,212.8 L624.7,213.3 L626.9,213.7 L629.0,214.2 L631.1,214.6 L633.3,215.0 L635.4,215.4 L637.5,215.7 L639.7,216.1 L641.8,216.4 L644.0,216.7 L646.1,217.0 L648.2,217.3 L650.4,217.5 L652.5,217.8 L654.7,218.0 L656.8,218.2 L658.9,218.5 L661.1,218.7 L663.2,218.9 L665.3,219.1 L667.5,219.3 L669.6,219.5 L671.8,219.7 L673.9,219.8 L676.0,220.0 L678.2,220.2 L680.3,220.3 L682.5,220.5 L684.6,220.6 L686.7,220.7 L688.9,220.9 L691.0,221.0 L693.1,221.1 L695.3,221.2 L697.4,221.3 L699.6,221.4 L701.7,221.5 L703.8,221.6 L706.0,221.7 L708.1,221.9 L710.3,222.0 L712.4,222.1 L714.5,222.2 L716.7,222.3 L718.8,222.4 L721.0,222.4 L723.1,222.5 L725.2,222.6 L727.4,222.7 L729.5,222.8 L731.6,222.9 L733.8,223.0 L735.9,223.0 L738.1,223.1 L740.2,223.2 L742.3,223.3 L744.5,223.3 L746.6,223.4 L748.8,223.5 L750.9,223.5 L753.0,223.6 L755.2,223.7 L757.3,223.7 L759.4,223.8 L761.6,223.9 L763.7,223.9 L765.9,224.0 L768.0,224.0 L770.1,224.1 L772.3,224.1 L774.4,224.2 L776.6,224.3 L778.7,224.3 L780.8,224.4 L783.0,224.4 L785.1,224.5 L787.2,224.5 L789.4,224.5 L791.5,224.6 L793.7,224.6 L795.8,224.7 L797.9,224.7 L800.1,224.8 L802.2,224.8 L804.4,224.8 L806.5,224.9 L808.6,224.9 L810.8,225.0 L812.9,225.0 L815.1,225.1 L817.2,225.2 L819.3,225.2 L821.5,225.3 L823.6,225.4 L825.7,225.5 L827.9,225.6 L830.0,225.6 L832.2,225.7 L834.3,225.8" stroke="#f00" stroke-width="2"/>
<path d="M523.3,2.9 L523.6,5.7 L523.9,8.5 L524.1,11.2 L524.4,13.9 L524.6,16.5 L524.9,19.0 L525.1,21.5 L525.4,24.0 L525.6,26.3 L525.9,28.7 L526.1,30.9 L526.4,33.2 L526.7,35.4 L526.9,37.5 L527.2,39.6 L527.4,41.7 L527.7,43.7 L527.9,45.7 L528.2,47.6 L528.4,49.5 L528.7,51.3 L528.9,53.2 L529.2,55.0 L529.5,56.7 L529.7,58.5 L530.0,60.1 L530.2,61.8 L530.5,63.5 L530.7,65.1 L531.0,66.7 L531.2,68.2 L531.5,69.8 L531.8,71.3 L532.0,72.8 L532.3,74.2 L532.5,75.7 L532.8,77.1 L533.0,78.5 L533.3,79.8 L533.5,81.2 L533.8,82.5 L534.0,83.8 L534.3,85.1 L534.6,86.3 L534.8,87.6 L535.1,88.8 L535.3,90.0 L535.6,91.2 L535.8,92.3 L536.1,93.5 L536.3,94.6 L536.6,95.7 L536.8,96.8 L537.1,97.9 L537.4,99.0 L537.6,100.0 L537.9,101.0 L538.1,102.1 L538.4,103.1 L538.6,104.1 L538.9,105.0 L539.1,106.0 L539.4,106.9 L539.7,107.9 L539.9,108.8 L540.2,109.7 L540.4,110.6 L540.7,111.5 L540.9,112.4 L541.2,113.3 L541.4,114.1 L541.7,115.0 L541.9,115.8 L542.2,116.6 L542.5,117.4 L542.7,118.2 L543.0,119.0 L543.2,119.7 L543.5,120.5 L543.7,121.3 L544.0,122.0 L544.2,122.7 L544.5,123.5 L544.7,124.2 L545.0,124.9 L545.3,125.6 L545.5,126.3 L545.8,127.0 L546.0,127.6 L546.3,128.3 L546.5,128.9 L546.8,129.6 L547.0,130.2 L547.3,130.8 L547.6,131.4 L547.8,132.1 L548.1,132.7 L548.3,133.3 L548.6,133.9 L548.8,134.4 L549.1,135.0 L549.3,135.6 L549.6,136.2 L549.8,136.7 L550.1,137.3 L550.4,137.8 L550.6,138.4 L550.9,138.9 L551.1,139.4 L551.4,139.9 L551.6,140.5 L551.9,141.0 L552.1,141.5 L552.4,142.0 L552.6,142.5 L552.9,143.0 L553.2,143.4 L553.4,143.9 L553.7,144.4 L553.9,144.9 L554.2,145.3 L554.4,145.8 L554.7,146.3 L554.9,146.7 L555.2,147.2 L555.4,147.6 L555.7,148.0 L556.0,148.5 L556.2,148.9 L556.5,149.3 L556.7,149.7 L557.0,150.2 L557.2,150.6 L557.5,151.0 L557.7,151.4 L558.0,151.8 L558.3,152.2 L558.5,152.6 L558.8,153.0 L559.0,153.4 L559.3,153.8 L559.5,154.1 L559.8,154.5 L560.0,154.9 L560.3,155.3 L560.5,155.6 L560.8,156.0 L561.1,156.4 L561.3,156.7 L561.6,157.1 L561.8,157.4 L562.1,157.8 L562.3,158.1 L562.6,158.5 L562.8,158.8 L563.1,159.1 L563.3,159.5 L563.6,159.8 L563.9,160.1 L564.1,160.5 L564.4,160.8 L564.6,161.1 L564.9,161.4 L565.1,161.7 L565.4,162.1 L565.6,162.4 L565.9,162.7 L566.2,163.0 L566.4,163.3 L566.7,163.6 L566.9,163.9 L567.2,164.2 L567.4,164.5 L567.7,164.7 L567.9,165.0 L568.2,165.3 L568.4,165.6 L568.7,165.9 L569.0,166.2 L569.2,166.4 L569.5,166.7 L569.7,167.0 L570.0,167.3 L570.2,167.5 L570.5,167.8 L570.7,168.1 L571.0,168.3 L571.2,168.6 L571.5,168.8 L571.8,169.1 L572.0,169.3 L572.3,169.6 L572.5,169.8 L572.8,170.1 L573.0,170.3 L573.3,170.6 L573.5,170.8 L573.8,171.1 L574.1,171.3 L574.3,171.5 L574.6,171.8 L574.8,172.0 L575.1,172.2 L575.3,172.5 L575.6,172.7 L575.8,172.9 L576.1,173.2 L576.3,173.4 L576.6,173.6 L576.9,173.8 L577.1,174.0 L577.4,174.3 L577.6,174.5 L577.9,174.7 L578.1,174.9 L578.4,175.1 L578.6,175.3 L578.9,175.5 L579.1,175.7 L579.4,175.9 L579.7,176.2 L579.9,176.4 L580.2,176.6 L580.4,176.8 L580.7,177.0 L580.9,177.2 L581.2,177.4 L581.4,177.5 L581.7,177.7 L582.0,177.9 L582.2,178.1 L582.5,178.3 L582.7,178.5 L583.0,178.7 L583.2,178.9 L583.5,179.1 L583.7,179.2 L584.0,179.4 L584.2,179.6 L584.5,179.8 L586.6,181.2 L588.7,182.6 L590.8,183.9 L592.9,185.1 L595.0,186.3 L597.1,187.4 L599.2,188.5 L601.3,189.5 L603.4,190.5 L605.5,191.5 L607.6,192.4 L609.7,193.2 L611.8,194.0 L613.9,194.8 L616.0,195.6 L618.1,196.3 L620.2,197.0 L622.3,197.7 L624.4,198.3 L626.5,199.0 L628.6,199.6 L630.7,200.2 L632.8,200.7 L634.9,201.3 L637.0,201.8 L639.1,202.3 L641.2,202.8 L643.3,203.3 L645.4,203.7 L647.5,204.2 L649.6,204.6 L651.7,205.0 L653.8,205.4 L655.9,205.8 L658.0,206.2 L660.1,206.6 L662.2,207.0 L664.3,207.3 L666.4,207.7 L668.5,208.0 L670.6,208.3 L672.7,208.7 L674.8,209.0 L676.9,209.3 L679.0,209.6 L681.1,209.9 L683.2,210.1 L685.3,210.4 L687.4,210.7 L689.5,211.0 L691.6,211.2 L693.7,211.5 L695.8,211.7 L697.9,211.9 L700.0,212.2 L702.1,212.4 L704.2,212.6 L706.3,212.8 L708.4,213.0 L710.4,213.2 L712.5,213.5 L714.6,213.6 L716.7,213.8 L718.8,214.0 L720.9,214.2 L723.0,214.4 L725.1,214.6 L727.2,214.7 L729.3,214.9 L731.4,215.1 L733.5,215.2 L735.6,215.4 L737.7,215.6 L739.8,215.7 L741.9,215.9 L744.0,216.0 L746.1,216.2 L748.2,216.3 L750.3,216.4 L752.4,216.6 L754.5,216.7 L756.6,216.8 L758.7,217.0 L760.8,217.1 L762.9,217.2 L765.0,217.3 L767.1,217.5 L769.2,217.6 L771.3,217.7 L773.4,217.8 L775.5,217.9 L777.6,218.0 L779.7,218.1 L781.8,218.2 L783.9,218.3 L786.0,218.4 L788.1,218.5 L790.2,218.6 L792.3,218.7 L794.4,218.8 L796.5,218.9 L798.6,219.0 L800.7,219.1 L802.8,219.2 L804.9,219.3 L807.0,219.4 L809.1,219.4 L811.2,219.5 L813.3,219.6 L815.4,219.7 L817.5,219.8 L819.6,219.8 L821.7,219.9 L823.8,220.0 L825.9,220.1 L828.0,220.1 L830.1,220.2 L832.2,220.3 L834.3,220.4" stroke="#0f0" stroke-width="2.25" stroke-dasharray="9.90 6.75" stroke-dashoffset="5.86"/>
<path d="M503.3,228.2 L508.9,228.2 L514.5,228.2 L520.1,228.2 L525.7,228.2 L531.3,228.2 L536.9,228.2 L542.5,228.3 L548.1,228.3 L553.7,228.3 L559.2,228.3 L564.8,228.3 L570.4,228.3 L576.0,228.3 L581.6,228.3 L587.2,228.3 L592.8,228.3 L598.4,228.3 L604.0,228.3 L609.6,228.3 L615.2,228.3 L620.8,228.3 L626.4,228.3 L632.0,228.3 L637.6,228.3 L643.2,228.3 L648.8,228.3 L654.4,228.3 L660.0,228.3 L665.6,228.3 L671.1,228.3 L676.7,228.4 L682.3,228.4 L687.9,228.4 L693.5,228.4 L699.1,228.4 L704.7,228.4 L710.3,228.4 L715.9,228.4 L721.5,228.4 L727.1,228.4 L732.7,228.4 L738.3,228.4 L743.9,228.4 L749.5,228.4 L755.1,228.4 L760.7,228.4 L766.3,228.4 L771.9,228.4 L777.5,228.4 L783.0,228.4 L788.6,228.4 L794.2,228.4 L799.8,228.4 L805.4,228.4 L811.0,228.4 L816.6,228.4 L822.2,228.4 L827.8,228.4 L833.4,228.4" stroke="#00f" stroke-width="2.4" stroke-linecap="round" stroke-dasharray="7.50 4.40 1.10 4.706" stroke-dashoffset="12.01"/>
<path d="M518.9,4.1 L519.2,7.6 L519.4,11.0 L519.7,14.3 L519.9,17.5 L520.2,20.7 L520.4,23.8 L520.7,26.8 L520.9,29.7 L521.2,32.6 L521.4,35.4 L521.7,38.1 L522.0,40.8 L522.2,43.4 L522.5,45.9 L522.7,48.4 L523.0,50.9 L523.2,53.2 L523.5,55.6 L523.7,57.8 L524.0,60.1 L524.2,62.2 L524.5,64.4 L524.8,66.5 L525.0,68.5 L525.3,70.5 L525.5,72.5 L525.8,74.4 L526.0,76.3 L526.3,78.1 L526.5,79.9 L526.8,81.7 L527.1,83.4 L527.3,85.1 L527.6,86.8 L527.8,88.4 L528.1,90.0 L528.3,91.6 L528.6,93.1 L528.8,94.6 L529.1,96.1 L529.3,97.6 L529.6,99.0 L529.9,100.4 L530.1,101.8 L530.4,103.2 L530.6,104.5 L530.9,105.8 L531.1,107.1 L531.4,108.4 L531.6,109.6 L531.9,110.8 L532.1,112.0 L532.4,113.2 L532.7,114.4 L532.9,115.5 L533.2,116.6 L533.4,117.7 L533.7,118.8 L533.9,119.9 L534.2,120.9 L534.4,122.0 L534.7,123.0 L535.0,124.0 L535.2,125.0 L535.5,126.0 L535.7,126.9 L536.0,127.9 L536.2,128.8 L536.5,129.7 L536.7,130.6 L537.0,131.5 L537.2,132.4 L537.5,133.2 L537.8,134.1 L538.0,134.9 L538.3,135.7 L538.5,136.5 L538.8,137.3 L539.0,138.1 L539.3,138.9 L539.5,139.7 L539.8,140.4 L540.0,141.2 L540.3,141.9 L540.6,142.6 L540.8,143.4 L541.1,144.1 L541.3,144.8 L541.6,145.4 L541.8,146.1 L542.1,146.8 L542.3,147.5 L542.6,148.1 L542.9,148.7 L543.1,149.4 L543.4,150.0 L543.6,150.6 L543.9,151.2 L544.1,151.8 L544.4,152.4 L544.6,153.0 L544.9,153.6 L545.1,154.2 L545.4,154.8 L545.7,155.3 L545.9,155.9 L546.2,156.4 L546.4,157.0 L546.7,157.5 L546.9,158.0 L547.2,158.5 L547.4,159.1 L547.7,159.6 L547.9,160.1 L548.2,160.6 L548.5,161.1 L548.7,161.5 L549.0,162.0 L549.2,162.5 L549.5,163.0 L549.7,163.4 L550.0,163.9 L550.2,164.3 L550.5,164.8 L550.7,165.2 L551.0,165.7 L551.3,166.1 L551.5,166.5 L551.8,167.0 L552.0,167.4 L552.3,167.8 L552.5,168.2 L552.8,168.6 L553.0,169.0 L553.3,169.4 L553.6,169.8 L553.8,170.2 L554.1,170.6 L554.3,171.0 L554.6,171.4 L554.8,171.7 L555.1,172.1 L555.3,172.5 L555.6,172.8 L555.8,173.2 L556.1,173.5 L556.4,173.9 L556.6,174.2 L556.9,174.6 L557.1,174.9 L557.4,175.3 L557.6,175.6 L557.9,175.9 L558.1,176.3 L558.4,176.6 L558.6,176.9 L558.9,177.2 L559.2,177.6 L559.4,177.9 L559.7,178.2 L559.9,178.5 L560.2,178.8 L560.4,179.1 L560.7,179.4 L560.9,179.7 L561.2,180.0 L561.5,180.3 L561.7,180.6 L562.0,180.9 L562.2,181.1 L562.5,181.4 L562.7,181.7 L563.0,182.0 L563.2,182.2 L563.5,182.5 L563.7,182.8 L564.0,183.1 L564.3,183.3 L564.5,183.6 L564.8,183.8 L565.0,184.1 L565.3,184.3 L565.5,184.6 L565.8,184.8 L566.0,185.1 L566.3,185.4 L566.5,185.6 L566.8,185.9 L567.1,186.1 L567.3,186.4 L567.6,186.6 L567.8,186.9 L568.1,187.1 L568.3,187.4 L568.6,187.6 L568.8,187.9 L569.1,188.1 L569.4,188.3 L569.6,188.6 L569.9,188.8 L570.1,189.0 L570.4,189.3 L570.6,189.5 L570.9,189.7 L571.1,189.9 L571.4,190.1 L571.6,190.4 L571.9,190.6 L572.2,190.8 L572.4,191.0 L572.7,191.2 L572.9,191.4 L573.2,191.6 L573.4,191.8 L573.7,192.0 L573.9,192.2 L574.2,192.4 L574.4,192.6 L574.7,192.8 L575.0,193.0 L575.2,193.2 L575.5,193.4 L575.7,193.6 L576.0,193.8 L576.2,194.0 L576.5,194.1 L576.7,194.3 L577.0,194.5 L577.3,194.7 L577.5,194.9 L577.8,195.0 L578.0,195.2 L578.3,195.4 L578.5,195.6 L578.8,195.7 L579.0,195.9 L579.3,196.1 L579.5,196.2 L579.8,196.4 L581.9,197.7 L584.1,199.0 L586.2,200.1 L588.4,201.2 L590.5,202.2 L592.6,203.1 L594.8,204.1 L596.9,204.9 L599.0,205.7 L601.2,206.5 L603.3,207.3 L605.5,208.0 L607.6,208.7 L609.7,209.4 L611.9,210.0 L614.0,210.6 L616.2,211.2 L618.3,211.7 L620.4,212.3 L622.6,212.8 L624.7,213.3 L626.9,213.7 L629.0,214.2 L631.1,214.6 L633.3,215.0 L635.4,215.4 L637.5,215.7 L639.7,216.1 L641.8,216.4 L644.0,216.8 L646.1,217.1 L648.2,217.4 L650.4,217.6 L652.5,217.9 L654.7,218.2 L656.8,218.4 L658.9,218.7 L661.1,218.9 L663.2,219.2 L665.3,219.4 L667.5,219.6 L669.6,219.8 L671.8,220.1 L673.9,220.3 L676.0,220.5 L678.2,220.6 L680.3,220.8 L682.5,221.0 L684.6,221.2 L686.7,221.3 L688.9,221.5 L691.0,221.7 L693.1,221.8 L695.3,222.0 L697.4,222.1 L699.6,222.3 L701.7,222.4 L703.8,222.5 L706.0,222.6 L708.1,222.8 L710.3,222.9 L712.4,223.0 L714.5,223.1 L716.7,223.2 L718.8,223.3 L721.0,223.4 L723.1,223.5 L725.2,223.6 L727.4,223.7 L729.5,223.8 L731.6,223.9 L733.8,224.0 L735.9,224.1 L738.1,224.2 L740.2,224.3 L742.3,224.3 L744.5,224.4 L746.6,224.5 L748.8,224.6 L750.9,224.6 L753.0,224.7 L755.2,224.8 L757.3,224.8 L759.4,224.9 L761.6,225.0 L763.7,225.0 L765.9,225.1 L768.0,225.1 L770.1,225.2 L772.3,225.2 L774.4,225.3 L776.6,225.4 L778.7,225.4 L780.8,225.5 L783.0,225.5 L785.1,225.6 L787.2,225.6 L789.4,225.6 L791.5,225.7 L793.7,225.7 L795.8,225.8 L797.9,225.8 L800.1,225.9 L802.2,225.9 L804.4,225.9 L806.5,226.0 L808.6,226.0 L810.8,226.0 L812.9,226.1 L815.1,226.1 L817.2,226.2 L819.3,226.2 L821.5,226.2 L823.6,226.2 L825.7,226.3 L827.9,226.3 L830.0,226.3 L832.2,226.4 L834.3,226.4" stroke="#000" stroke-width="4.05" stroke-dasharray="0.7 4.501" stroke-dashoffset="4.99" stroke-linecap="round"/>
<path d="M502.8,214.3 L508.4,214.8 L514.0,215.2 L519.7,215.6 L525.3,216.0 L530.9,216.4 L536.5,216.7 L542.1,217.0 L547.7,217.3 L553.4,217.6 L559.0,217.9 L564.6,218.2 L570.2,218.4 L575.8,218.7 L581.5,218.9 L587.1,219.1 L592.7,219.3 L598.3,219.6 L603.9,219.8 L609.6,219.9 L615.2,220.1 L620.8,220.3 L626.4,220.5 L632.0,220.6 L637.6,220.8 L643.3,220.9 L648.9,221.1 L654.5,221.2 L660.1,221.4 L665.7,221.5 L671.4,221.6 L677.0,221.7 L682.6,221.9 L688.2,222.0 L693.8,222.1 L699.5,222.2 L705.1,222.3 L710.7,222.4 L716.3,222.5 L721.9,222.6 L727.5,222.7 L733.2,222.8 L738.8,222.9 L744.4,223.0 L750.0,223.1 L755.6,223.1 L761.3,223.2 L766.9,223.3 L772.5,223.4 L778.1,223.4 L783.7,223.5 L789.4,223.6 L795.0,223.7 L800.6,223.7 L806.2,223.8 L811.8,223.9 L817.4,223.9 L823.1,224.0 L828.7,224.0 L834.3,224.1" stroke="#0ff" stroke-width="2.5" stroke-dasharray="0.7 4.492" stroke-dashoffset="4.19" stroke-linecap="round"/>
</g>
<g class="t" role="img" aria-label="200"><title>200</title><path transform="translate(460.65,9.10) scale(1,0.9693)" d="M0.4,3.3 C0.4,1.3 1.6,0 3.4,0 C5.1,0 6.3,1.2 6.3,3 C6.3,4.5 5.4,5.5 4.0,6.9 L-0.1,11.4 H6.9"/><path transform="translate(472.25,9.10) scale(1,0.9693)" d="M0,5.7 C0,2.2 1.3,0 3.4,0 C5.5,0 6.8,2.2 6.8,5.7 C6.8,9.2 5.5,11.4 3.4,11.4 C1.3,11.4 0,9.2 0,5.7Z"/><path transform="translate(483.85,9.10) scale(1,0.9693)" d="M0,5.7 C0,2.2 1.3,0 3.4,0 C5.5,0 6.8,2.2 6.8,5.7 C6.8,9.2 5.5,11.4 3.4,11.4 C1.3,11.4 0,9.2 0,5.7Z"/></g>
<g class="t" role="img" aria-label="175"><title>175</title><path transform="translate(460.65,36.50) scale(1,0.9693)" d="M0.4,1.8 L3.85,0.2 V11.4 M0.1,11.4 H7.1"/><path transform="translate(472.25,36.50) scale(1,0.9693)" d="M0.1,1.5 V0 H6.7 L3.0,11.4"/><path transform="translate(483.85,36.50) scale(1,0.9693)" d="M6.1,0 H1.0 L0.7,5.0 C1.5,4.3 2.4,3.9 3.5,3.9 C5.4,3.9 6.7,5.4 6.7,7.6 C6.7,9.9 5.2,11.4 3.2,11.4 C1.8,11.4 0.6,10.8 -0.1,9.8"/></g>
<g class="t" role="img" aria-label="150"><title>150</title><path transform="translate(460.65,63.20) scale(1,0.9693)" d="M0.4,1.8 L3.85,0.2 V11.4 M0.1,11.4 H7.1"/><path transform="translate(472.25,63.20) scale(1,0.9693)" d="M6.1,0 H1.0 L0.7,5.0 C1.5,4.3 2.4,3.9 3.5,3.9 C5.4,3.9 6.7,5.4 6.7,7.6 C6.7,9.9 5.2,11.4 3.2,11.4 C1.8,11.4 0.6,10.8 -0.1,9.8"/><path transform="translate(483.85,63.20) scale(1,0.9693)" d="M0,5.7 C0,2.2 1.3,0 3.4,0 C5.5,0 6.8,2.2 6.8,5.7 C6.8,9.2 5.5,11.4 3.4,11.4 C1.3,11.4 0,9.2 0,5.7Z"/></g>
<g class="t" role="img" aria-label="125"><title>125</title><path transform="translate(460.65,90.50) scale(1,0.9693)" d="M0.4,1.8 L3.85,0.2 V11.4 M0.1,11.4 H7.1"/><path transform="translate(472.25,90.50) scale(1,0.9693)" d="M0.4,3.3 C0.4,1.3 1.6,0 3.4,0 C5.1,0 6.3,1.2 6.3,3 C6.3,4.5 5.4,5.5 4.0,6.9 L-0.1,11.4 H6.9"/><path transform="translate(483.85,90.50) scale(1,0.9693)" d="M6.1,0 H1.0 L0.7,5.0 C1.5,4.3 2.4,3.9 3.5,3.9 C5.4,3.9 6.7,5.4 6.7,7.6 C6.7,9.9 5.2,11.4 3.2,11.4 C1.8,11.4 0.6,10.8 -0.1,9.8"/></g>
<g class="t" role="img" aria-label="100"><title>100</title><path transform="translate(460.65,116.60) scale(1,0.9693)" d="M0.4,1.8 L3.85,0.2 V11.4 M0.1,11.4 H7.1"/><path transform="translate(472.25,116.60) scale(1,0.9693)" d="M0,5.7 C0,2.2 1.3,0 3.4,0 C5.5,0 6.8,2.2 6.8,5.7 C6.8,9.2 5.5,11.4 3.4,11.4 C1.3,11.4 0,9.2 0,5.7Z"/><path transform="translate(483.85,116.60) scale(1,0.9693)" d="M0,5.7 C0,2.2 1.3,0 3.4,0 C5.5,0 6.8,2.2 6.8,5.7 C6.8,9.2 5.5,11.4 3.4,11.4 C1.3,11.4 0,9.2 0,5.7Z"/></g>
<g class="t" role="img" aria-label="75"><title>75</title><path transform="translate(472.25,143.45) scale(1,0.9693)" d="M0.1,1.5 V0 H6.7 L3.0,11.4"/><path transform="translate(483.85,143.45) scale(1,0.9693)" d="M6.1,0 H1.0 L0.7,5.0 C1.5,4.3 2.4,3.9 3.5,3.9 C5.4,3.9 6.7,5.4 6.7,7.6 C6.7,9.9 5.2,11.4 3.2,11.4 C1.8,11.4 0.6,10.8 -0.1,9.8"/></g>
<g class="t" role="img" aria-label="50"><title>50</title><path transform="translate(472.25,169.75) scale(1,0.9693)" d="M6.1,0 H1.0 L0.7,5.0 C1.5,4.3 2.4,3.9 3.5,3.9 C5.4,3.9 6.7,5.4 6.7,7.6 C6.7,9.9 5.2,11.4 3.2,11.4 C1.8,11.4 0.6,10.8 -0.1,9.8"/><path transform="translate(483.85,169.75) scale(1,0.9693)" d="M0,5.7 C0,2.2 1.3,0 3.4,0 C5.5,0 6.8,2.2 6.8,5.7 C6.8,9.2 5.5,11.4 3.4,11.4 C1.3,11.4 0,9.2 0,5.7Z"/></g>
<g class="t" role="img" aria-label="25"><title>25</title><path transform="translate(472.25,196.50) scale(1,0.9693)" d="M0.4,3.3 C0.4,1.3 1.6,0 3.4,0 C5.1,0 6.3,1.2 6.3,3 C6.3,4.5 5.4,5.5 4.0,6.9 L-0.1,11.4 H6.9"/><path transform="translate(483.85,196.50) scale(1,0.9693)" d="M6.1,0 H1.0 L0.7,5.0 C1.5,4.3 2.4,3.9 3.5,3.9 C5.4,3.9 6.7,5.4 6.7,7.6 C6.7,9.9 5.2,11.4 3.2,11.4 C1.8,11.4 0.6,10.8 -0.1,9.8"/></g>
<g class="t" role="img" aria-label="0.15"><title>0.15</title><path transform="translate(559.05,234.40) scale(1,0.9693)" d="M0,5.7 C0,2.2 1.3,0 3.4,0 C5.5,0 6.8,2.2 6.8,5.7 C6.8,9.2 5.5,11.4 3.4,11.4 C1.3,11.4 0,9.2 0,5.7Z"/><circle cx="573.95" cy="244.70" r="1.3" fill="#111" stroke="none"/><path transform="translate(582.05,234.40) scale(1,0.9693)" d="M0.4,1.8 L3.85,0.2 V11.4 M0.1,11.4 H7.1"/><path transform="translate(593.55,234.40) scale(1,0.9693)" d="M6.1,0 H1.0 L0.7,5.0 C1.5,4.3 2.4,3.9 3.5,3.9 C5.4,3.9 6.7,5.4 6.7,7.6 C6.7,9.9 5.2,11.4 3.2,11.4 C1.8,11.4 0.6,10.8 -0.1,9.8"/></g>
<g class="t" role="img" aria-label="0.2"><title>0.2</title><path transform="translate(649.40,234.40) scale(1,0.9693)" d="M0,5.7 C0,2.2 1.3,0 3.4,0 C5.5,0 6.8,2.2 6.8,5.7 C6.8,9.2 5.5,11.4 3.4,11.4 C1.3,11.4 0,9.2 0,5.7Z"/><circle cx="664.30" cy="244.70" r="1.3" fill="#111" stroke="none"/><path transform="translate(672.40,234.40) scale(1,0.9693)" d="M0.4,3.3 C0.4,1.3 1.6,0 3.4,0 C5.1,0 6.3,1.2 6.3,3 C6.3,4.5 5.4,5.5 4.0,6.9 L-0.1,11.4 H6.9"/></g>
<g class="t" role="img" aria-label="0.25"><title>0.25</title><path transform="translate(728.25,234.40) scale(1,0.9693)" d="M0,5.7 C0,2.2 1.3,0 3.4,0 C5.5,0 6.8,2.2 6.8,5.7 C6.8,9.2 5.5,11.4 3.4,11.4 C1.3,11.4 0,9.2 0,5.7Z"/><circle cx="743.15" cy="244.70" r="1.3" fill="#111" stroke="none"/><path transform="translate(751.25,234.40) scale(1,0.9693)" d="M0.4,3.3 C0.4,1.3 1.6,0 3.4,0 C5.1,0 6.3,1.2 6.3,3 C6.3,4.5 5.4,5.5 4.0,6.9 L-0.1,11.4 H6.9"/><path transform="translate(762.75,234.40) scale(1,0.9693)" d="M6.1,0 H1.0 L0.7,5.0 C1.5,4.3 2.4,3.9 3.5,3.9 C5.4,3.9 6.7,5.4 6.7,7.6 C6.7,9.9 5.2,11.4 3.2,11.4 C1.8,11.4 0.6,10.8 -0.1,9.8"/></g>
<g class="t" role="img" aria-label="0.3"><title>0.3</title><path transform="translate(818.60,234.40) scale(1,0.9693)" d="M0,5.7 C0,2.2 1.3,0 3.4,0 C5.5,0 6.8,2.2 6.8,5.7 C6.8,9.2 5.5,11.4 3.4,11.4 C1.3,11.4 0,9.2 0,5.7Z"/><circle cx="833.50" cy="244.70" r="1.3" fill="#111" stroke="none"/><path transform="translate(841.60,234.40) scale(1,0.9693)" d="M0.5,1.4 C1.2,0.5 2.2,0 3.4,0 C5.0,0 6.1,1.1 6.1,2.7 C6.1,4.3 4.9,5.3 2.8,5.3 C5.1,5.3 6.7,6.4 6.7,8.3 C6.7,10.2 5.2,11.4 3.3,11.4 C1.9,11.4 0.6,10.8 -0.1,9.8"/></g>
</svg>
</body></html>
